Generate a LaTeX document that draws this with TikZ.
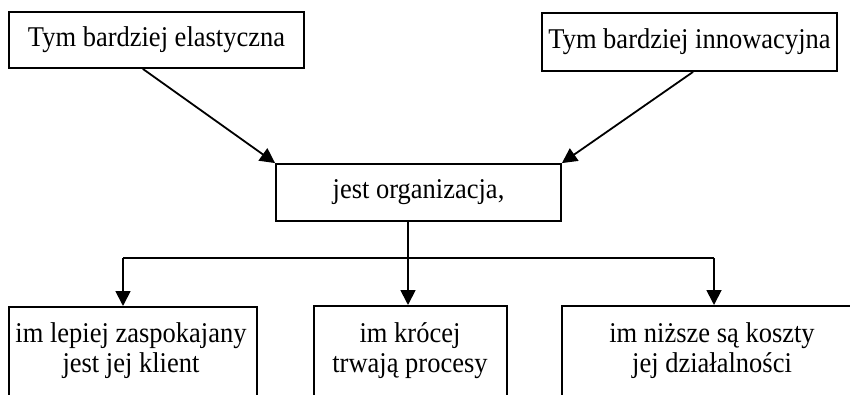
\documentclass[tikz,border=0pt]{standalone}
\usepackage{fontspec}
\usepackage{graphicx}
\setmainfont{Liberation Serif}
\usetikzlibrary{arrows.meta,calc}
\newcommand{\tallt}[1]{\scalebox{1}[1.08]{#1}}
\begin{document}
\begin{tikzpicture}[x=1pt,y=-1pt,
  box/.style={draw=black, line width=1.8pt, rectangle, inner sep=2pt, font=\fontsize{26.5}{30}\selectfont},
  txt/.style={anchor=base, inner sep=0pt, font=\fontsize{26.5}{30}\selectfont},
  conn/.style={line width=1.8pt, draw=black},
  arr/.style={conn, -{Triangle[length=15pt,width=15pt]}}]
\useasboundingbox (0,0) rectangle (850,395);
\clip (0,0) rectangle (850,395);
\fill[white] (0,0) rectangle (850,395);
% top boxes
\node[box, minimum width=295, minimum height=56] (tl) at (156.5,40) {\tallt{Tym bardziej elastyczna}};
\node[box, minimum width=295, minimum height=58] (tr) at (689.5,42) {\tallt{Tym bardziej innowacyjna}};
\node[box, minimum width=285, minimum height=57] (mid) at (418.5,192.5) {\tallt{jest organizacja,}};
% bottom boxes (cut by the lower edge)
\node[box, minimum width=248, minimum height=150, anchor=north] (b1) at (133,306) {};
\node[box, minimum width=193, minimum height=150, anchor=north] (b2) at (410.5,305) {};
\node[box, minimum width=300, minimum height=150, anchor=north] (b3) at (712,305) {};
\node[txt] (b1a) at (131,342) {\tallt{im lepiej zaspokajany}};
\node[txt] (b1b) at (131,372) {\tallt{jest jej klient}};
\node[txt] (b2a) at (410,342) {\tallt{im krócej}};
\node[txt] (b2b) at (410,372) {\tallt{trwają procesy}};
\node[txt] (b3a) at (712,342) {\tallt{im niższe są koszty}};
\node[txt] (b3b) at (712,372) {\tallt{jej działalności}};
% connectors
\draw[arr] ($(tl.south west)!0.454!(tl.south east)$) -- (mid.north west);
\draw[arr] ($(tr.south west)!0.512!(tr.south east)$) -- (mid.north east);
\coordinate (split) at (408,258);
\coordinate (h1) at (123,258);
\coordinate (h3) at (714,258);
\draw[conn] (mid.south -| split) -- (split);
\draw[conn] (h1) -- (h3);
\draw[arr] (h1) -- (h1 |- b1.north);
\draw[arr] (split) -- (split |- b2.north);
\draw[arr] (h3) -- (h3 |- b3.north);
\end{tikzpicture}
\end{document}
